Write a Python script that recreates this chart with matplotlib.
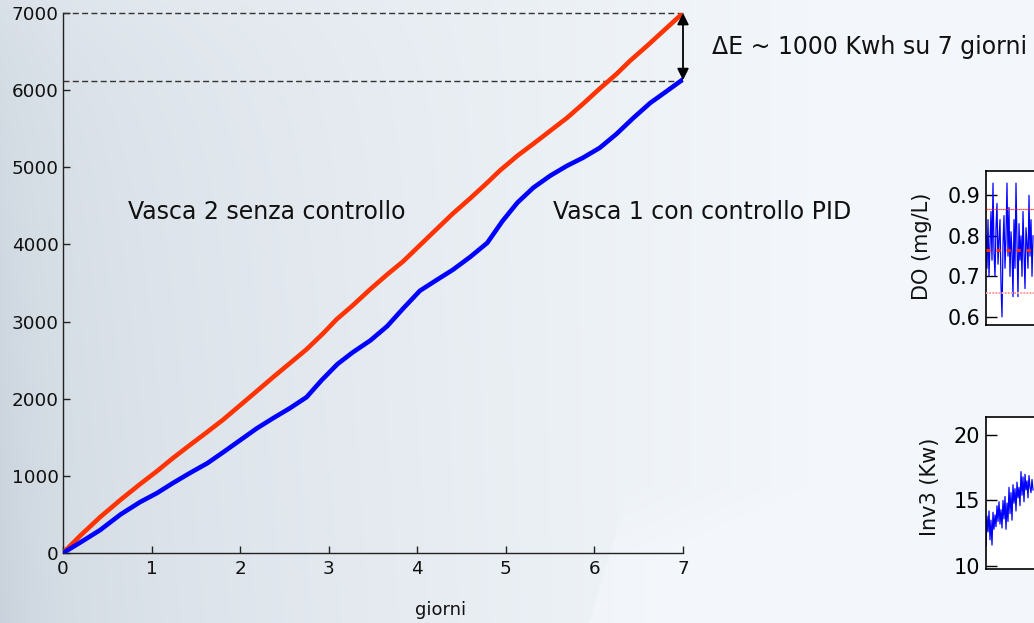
import numpy as np
import matplotlib
matplotlib.use("Agg")
import matplotlib.pyplot as plt

# ---- cumulative energy (kWh) over one week ----
days_red = [0, 0.2, 0.42, 0.65, 0.87, 1.06, 1.24, 1.43, 1.63, 1.81, 2.0, 2.19, 2.37,
            2.56, 2.75, 2.94, 3.09, 3.27, 3.47, 3.66, 3.84, 4.03, 4.22, 4.40, 4.60,
            4.79, 4.93, 5.13, 5.31, 5.50, 5.69, 5.87, 6.06, 6.25, 6.40, 6.6, 6.8, 7.0]
energy_red = [0, 230, 466, 690, 893, 1060, 1229, 1397, 1570, 1730, 1915, 2100, 2277,
              2458, 2640, 2850, 3030, 3208, 3420, 3610, 3780, 3990, 4200, 4398, 4600,
              4800, 4955, 5149, 5304, 5472, 5640, 5821, 6020, 6210, 6378, 6580, 6790, 7000]

days_blue = [0, 0.2, 0.42, 0.65, 0.87, 1.06, 1.24, 1.43, 1.63, 1.81, 2.0, 2.19, 2.37,
             2.56, 2.75, 2.92, 3.1, 3.27, 3.47, 3.66, 3.84, 4.03, 4.22, 4.40, 4.60,
             4.79, 4.96, 5.13, 5.31, 5.50, 5.69, 5.87, 6.06, 6.25, 6.44, 6.63, 6.82, 7.0]
energy_blue = [0, 140, 298, 500, 660, 776, 906, 1035, 1164, 1307, 1462, 1617, 1746,
               1876, 2020, 2240, 2450, 2600, 2755, 2940, 3169, 3400, 3540, 3670, 3840,
               4020, 4300, 4541, 4735, 4890, 5019, 5123, 5252, 5433, 5640, 5834, 5990, 6140]

x_ticks = [0, 1, 2, 3, 4, 5, 6, 7]
y_ticks = [0, 1000, 2000, 3000, 4000, 5000, 6000, 7000]

# ---- dissolved oxygen and inverter power samples ----
do_vals = [0.80, 0.72, 0.84, 0.70, 0.78, 0.86, 0.74, 0.93, 0.76, 0.70, 0.82, 0.88,
           0.73, 0.79, 0.84, 0.68, 0.60, 0.78, 0.85, 0.72, 0.80, 0.93, 0.75, 0.87,
           0.70, 0.81, 0.76, 0.65, 0.84, 0.72, 0.93, 0.78, 0.65, 0.83, 0.74, 0.80,
           0.70, 0.86, 0.76, 0.67, 0.82, 0.78, 0.72, 0.90, 0.75, 0.84, 0.70, 0.80]
do_setpoint = 0.765
do_upper = 0.866
do_lower = 0.659
do_ticks = [0.6, 0.7, 0.8, 0.9]

inv_vals = [11.5, 13.8, 12.6, 14.2, 12.0, 13.5, 11.6, 14.1, 12.8, 13.9, 13.0, 14.6,
            13.4, 14.9, 13.2, 14.3, 12.9, 15.0, 13.6, 15.3, 12.8, 14.8, 13.4, 16.0,
            14.0, 15.6, 13.5, 16.2, 14.8, 15.9, 14.2, 16.4, 15.2, 16.0, 14.6, 17.2,
            15.4, 16.8, 14.9, 17.0, 15.8, 16.5, 15.2, 16.9, 16.0, 15.6, 16.6, 15.8]
inv_ticks = [10, 15, 20]

W, H = 1034, 623
fig = plt.figure(figsize=(W / 100, H / 100), dpi=100)

# ---- slide-like background ----
bg = fig.add_axes([0, 0, 1, 1], zorder=-10)
u = np.linspace(0, 1, W)[None, :]
v = np.linspace(0, 1, H)[:, None]
t = 0.38 + 0.62 * np.clip(u / 0.8, 0, 1) ** 0.8
t = t - 0.20 * np.exp(-u / 0.05) * (0.3 + 0.7 * v)
t = t - 0.08 * v * np.clip(1 - u / 0.6, 0, 1)
t = t + 0.12 * (1 - v) * np.clip(1 - u / 0.5, 0, 1) * np.exp(-v / 0.12)
diag = (u - 0.57) + (v - 1.0) * 0.18
t = t + 0.10 * (diag > 0) * np.clip((v - 0.78) / 0.12, 0, 1)
t = np.clip(t, 0, 1)
dark = np.array([0.77, 0.81, 0.85])
light = np.array([0.955, 0.97, 0.985])
img = dark[None, None, :] * (1 - t[..., None]) + light[None, None, :] * t[..., None]
bg.imshow(img, aspect="auto", extent=[0, 1, 0, 1], interpolation="bilinear")
bg.set_axis_off()

# ---- main cumulative energy plot ----
ax = fig.add_axes([63 / W, 70 / H, 620 / W, 540 / H])
ax.patch.set_alpha(0)
ax.plot(days_red, energy_red, color="#ff3300", lw=3.3, solid_capstyle="round",
        solid_joinstyle="round", zorder=3)
ax.plot(days_blue, energy_blue, color="#0000ff", lw=3.3, solid_capstyle="round",
        solid_joinstyle="round", zorder=3)

ax.set_xlim(0, 7)
ax.set_ylim(0, 7000)
ax.set_xticks(x_ticks)
ax.set_yticks(y_ticks)
for side in ("top", "right"):
    ax.spines[side].set_visible(False)
for side in ("left", "bottom"):
    ax.spines[side].set_color("#222222")
    ax.spines[side].set_linewidth(1.0)
ax.tick_params(direction="in", length=5, width=1.0, colors="#222222",
               labelsize=13.2, labelcolor="#111111")
ax.tick_params(axis="x", pad=5)
ax.tick_params(axis="y", pad=3)

dash = (0, (4.3, 2.4))
ax.plot([0, 7], [energy_red[-1], energy_red[-1]], color="#333333", lw=1.0,
        linestyle=dash, clip_on=False, zorder=2)
ax.plot([0, 7], [6120, 6120], color="#333333", lw=1.0, linestyle=dash,
        clip_on=False, zorder=2)
ax.annotate("", xy=(7, 6130), xytext=(7, energy_red[-1]),
            arrowprops=dict(arrowstyle="<|-|>", color="black", lw=1.3,
                            mutation_scale=17, shrinkA=0, shrinkB=0),
            annotation_clip=False, zorder=5)

ax.text(0.734, 4420, "Vasca 2 senza controllo", fontsize=17, ha="left",
        va="center", color="#111111")
ax.text(5.532, 4420, "Vasca 1 con controllo PID", fontsize=17, ha="left",
        va="center", color="#111111")
ax.text(7.33, 6560, "\u0394E ~ 1000 Kwh su 7 giorni", fontsize=17, ha="left",
        va="center", color="#111111", clip_on=False)
fig.text(415 / W, 1 - 615 / H, "giorni", fontsize=13, ha="left",
         va="baseline", color="#111111")

# ---- inset: dissolved oxygen ----
ax_do = fig.add_axes([986 / W, (H - 325) / H, 0.2, 154 / H])
ax_do.set_facecolor("white")
n_do = len(do_vals)
ax_do.plot(range(n_do), do_vals, color="#0000ff", lw=0.9, zorder=2)
ax_do.axhline(do_upper, color="#ff2020", lw=0.9, linestyle=(0, (1, 0.6)), zorder=3)
ax_do.axhline(do_lower, color="#ffa0a0", lw=1.4, linestyle=(0, (1, 0.6)), zorder=3)
ax_do.axhline(do_setpoint, color="#ff2a00", lw=2.2, linestyle=(0, (1.3, 2.0)), zorder=4)
ax_do.set_xlim(0, 0.2 * W)
ax_do.set_ylim(0.58, 0.96)
ax_do.set_yticks(do_ticks)
ax_do.set_yticklabels(["0.6", "0.7", "0.8", "0.9"])
ax_do.set_xticks([])
ax_do.tick_params(direction="in", length=8, width=1.0, labelsize=14.8, pad=4)
for s in ax_do.spines.values():
    s.set_linewidth(1.2)
fig.text(922 / W, 1 - 246 / H, "DO (mg/L)", rotation=90, fontsize=15,
         ha="center", va="center", color="#111111")

# ---- inset: inverter power ----
ax_inv = fig.add_axes([986 / W, (H - 569) / H, 0.2, 152 / H])
ax_inv.set_facecolor("white")
n_inv = len(inv_vals)
ax_inv.plot(range(n_inv), inv_vals, color="#0000ff", lw=0.9)
ax_inv.set_xlim(0, 0.2 * W)
ax_inv.set_ylim(9.77, 21.37)
ax_inv.set_yticks(inv_ticks)
ax_inv.set_xticks([])
ax_inv.tick_params(direction="in", length=8, width=1.0, labelsize=15, pad=4)
for s in ax_inv.spines.values():
    s.set_linewidth(1.2)
fig.text(930 / W, 1 - 487 / H, "Inv3 (Kw)", rotation=90, fontsize=15,
         ha="center", va="center", color="#111111")

fig.savefig("out.png", dpi=100)
